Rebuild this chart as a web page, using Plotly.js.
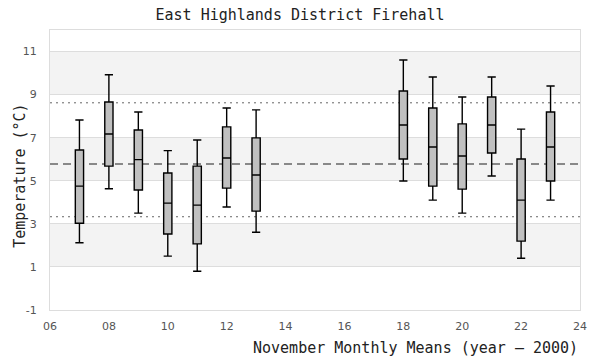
<!DOCTYPE html>
<html>
<head>
<meta charset="utf-8">
<script src="https://cdn.plot.ly/plotly-3.0.1.min.js"></script>
<style>html,body{margin:0;padding:0;background:#fff;}#chart{width:600px;height:360px;}</style>
</head>
<body>
<div id="chart"></div>
<script>
// Years (year - 2000)
const years = [7, 8, 9, 10, 11, 12, 13, 18, 19, 20, 21, 22, 23];
const whiskerLow  = [2.12, 4.63, 3.50, 1.50, 0.80, 3.78, 2.61, 4.99, 4.10, 3.50, 5.22, 1.40, 4.10];
const q1          = [3.03, 5.68, 4.57, 2.53, 2.07, 4.66, 3.59, 6.01, 4.75, 4.61, 6.29, 2.20, 4.99];
const medians     = [4.75, 7.17, 5.98, 3.96, 3.87, 6.06, 5.27, 7.59, 6.57, 6.15, 7.59, 4.10, 6.57];
const q3          = [6.43, 8.66, 7.36, 5.36, 5.68, 7.50, 6.99, 9.17, 8.38, 7.64, 8.89, 6.01, 8.19];
const whiskerHigh = [7.82, 9.92, 8.19, 6.40, 6.89, 8.38, 8.29, 10.61, 9.82, 8.89, 9.82, 7.40, 9.40];

// Reference lines
const refUpper = 8.62;
const refMean  = 5.78;
const refLower = 3.33;

// Tick values / labels
const yTicks = [-1, 1, 3, 5, 7, 9, 11];
const yTickLabels = ['-1', '1', '3', '5', '7', '9', '11'];
const xTicks = [6, 8, 10, 12, 14, 16, 18, 20, 22, 24];
const xTickLabels = ['06', '08', '10', '12', '14', '16', '18', '20', '22', '24'];

// Alternating bands (shaded between tick pairs)
const bandStarts = [1, 5, 9];

const shapes = [];
bandStarts.forEach(b => {
  shapes.push({type:'rect', xref:'paper', yref:'y', x0:0, x1:1, y0:b, y1:b+2,
    fillcolor:'#f3f3f3', line:{width:0}, layer:'below'});
});
[[refUpper,'dot'],[refLower,'dot'],[refMean,'dash']].forEach(([v,d]) => {
  shapes.push({type:'line', xref:'paper', yref:'y', x0:0, x1:1, y0:v, y1:v,
    line: d==='dot' ? {color:'#666', width:1, dash:'2px,4px'} : {color:'#666', width:1.5, dash:'8px,5px'},
    layer:'below'});
});

const trace = {
  type:'box',
  x: years,
  q1: q1,
  median: medians,
  q3: q3,
  lowerfence: whiskerLow,
  upperfence: whiskerHigh,
  width: 0.28,
  whiskerwidth: 1,
  boxpoints: false,
  fillcolor: '#c0c0c0',
  line: {color:'#000', width:1.4},
  hoverinfo: 'skip',
  showlegend: false
};

const layout = {
  width: 600, height: 360,
  margin: {l:50, r:20, t:30, b:50},
  paper_bgcolor:'#fff', plot_bgcolor:'rgba(0,0,0,0)',
  title: {text:'East Highlands District Firehall', x:0.5, xanchor:'center', y:0.958, yanchor:'middle',
    font:{family:'DejaVu Sans Mono', size:15, color:'#222'}},
  xaxis: {
    range:[6,24], tickvals: xTicks, ticktext: xTickLabels, showgrid:false, zeroline:false,
    showline:true, mirror:true, linecolor:'#ddd', linewidth:1,
    ticks:'', ticklabelstandoff:6,
    tickfont:{family:'DejaVu Sans', size:11, color:'#555'}
  },
  yaxis: {
    range:[-1,12], tickvals: yTicks, ticktext: yTickLabels, showgrid:true, gridcolor:'#ddd', gridwidth:1, zeroline:false,
    showline:true, mirror:true, linecolor:'#ddd', linewidth:1,
    ticks:'', ticklabelstandoff:10,
    tickfont:{family:'DejaVu Sans', size:11, color:'#555'}
  },
  shapes: shapes,
  annotations: [{
    text:'November Monthly Means (year – 2000)', xref:'paper', yref:'paper',
    x:1, y:-0.135, xanchor:'right', yanchor:'middle', showarrow:false,
    font:{family:'DejaVu Sans Mono', size:15, color:'#222'}
  },{
    text:'Temperature (°C)', xref:'paper', yref:'paper',
    x:-0.058, xanchor:'center', y:0.48, yanchor:'middle', textangle:-90, showarrow:false,
    font:{family:'DejaVu Sans Mono', size:15, color:'#222'}
  }],
  hovermode:false
};

Plotly.newPlot('chart', [trace], layout, {displayModeBar:false, staticPlot:true});
</script>
</body>
</html>
